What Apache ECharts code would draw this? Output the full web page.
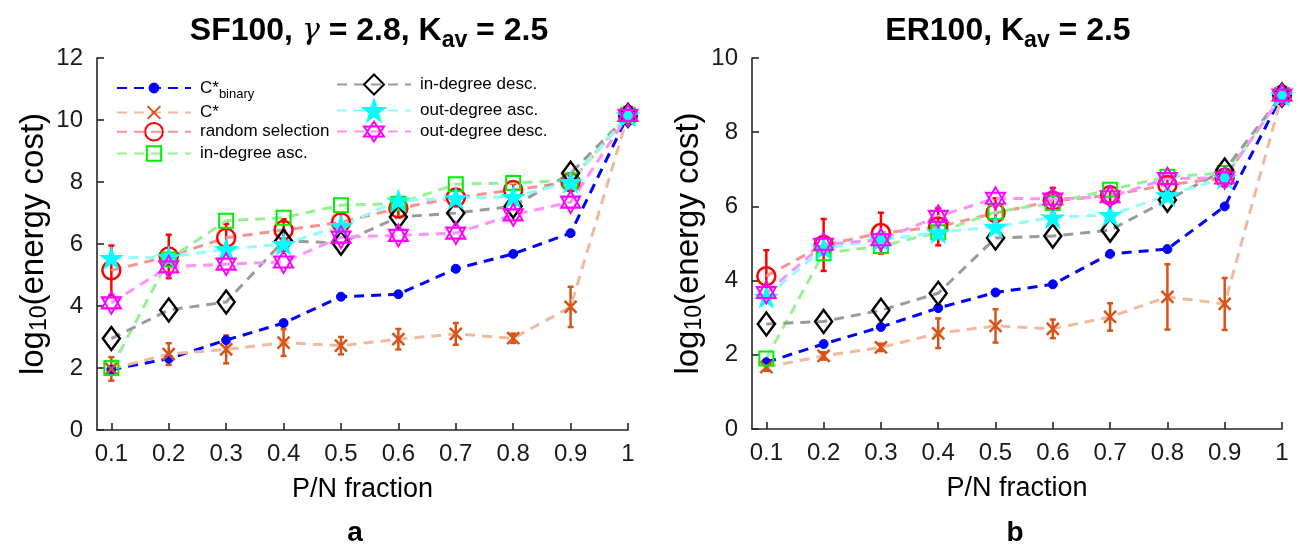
<!DOCTYPE html>
<html>
<head>
<meta charset="utf-8">
<script src="https://cdn.jsdelivr.net/npm/echarts@6/dist/echarts.min.js"></script>
<style>
  html, body { margin: 0; padding: 0; background: #ffffff; }
  #chart { width: 1300px; height: 547px; }
</style>
</head>
<body>
<div id="chart"></div>
<script>
// P/N fraction values shared by both panels
const fractions = [0.1, 0.2, 0.3, 0.4, 0.5, 0.6, 0.7, 0.8, 0.9, 1];
const xTickValues = [0.1, 0.2, 0.3, 0.4, 0.5, 0.6, 0.7, 0.8, 0.9, 1];

// Panel a: SF100, gamma = 2.8, K_av = 2.5  (log10 energy cost)
const sfBinary     = [1.95, 2.30, 2.90, 3.45, 4.30, 4.38, 5.20, 5.68, 6.35, 10.15];
const sfCstar      = [1.97, 2.45, 2.60, 2.82, 2.72, 2.93, 3.10, 2.96, 3.97, 10.15];
const sfCstarErr   = [0.38, 0.35, 0.45, 0.43, 0.28, 0.33, 0.35, 0.15, 0.65, 0];
const sfRandom     = [5.15, 5.60, 6.20, 6.45, 6.70, 7.15, 7.50, 7.74, 8.00, 10.15];
const sfRandomErr  = [0.80, 0.70, 0.45, 0.35, 0.30, 0.30, 0.25, 0.20, 0.20, 0];
const sfInAsc      = [2.00, 5.50, 6.75, 6.85, 7.25, 7.30, 7.93, 7.97, 8.05, 10.15];
const sfInDesc     = [2.95, 3.87, 4.13, 6.10, 6.03, 6.87, 7.00, 7.22, 8.28, 10.15];
const sfOutAsc     = [5.55, 5.58, 5.83, 6.00, 6.58, 7.40, 7.48, 7.52, 8.00, 10.15];
const sfOutDesc    = [4.10, 5.26, 5.35, 5.42, 6.22, 6.28, 6.35, 6.94, 7.35, 10.15];

// Panel b: ER100, K_av = 2.5
const erBinary     = [1.80, 2.29, 2.75, 3.26, 3.68, 3.90, 4.72, 4.85, 6.00, 9.00];
const erCstar      = [1.67, 1.97, 2.20, 2.58, 2.78, 2.70, 3.02, 3.56, 3.37, 9.00];
const erCstarErr   = [0.10, 0.10, 0.10, 0.40, 0.45, 0.25, 0.37, 0.88, 0.70, 0];
const erRandom     = [4.12, 4.96, 5.28, 5.45, 5.82, 6.15, 6.30, 6.58, 6.77, 9.00];
const erRandomErr  = [0.70, 0.70, 0.55, 0.50, 0.40, 0.35, 0.20, 0.20, 0.20, 0];
const erInAsc      = [1.90, 4.74, 4.93, 5.30, 5.85, 6.09, 6.45, 6.80, 6.90, 9.00];
const erInDesc     = [2.83, 2.90, 3.20, 3.66, 5.15, 5.20, 5.36, 6.17, 6.98, 9.00];
const erOutAsc     = [3.56, 4.87, 5.10, 5.30, 5.45, 5.70, 5.77, 6.30, 6.77, 9.00];
const erOutDesc    = [3.68, 4.98, 5.10, 5.73, 6.22, 6.20, 6.26, 6.75, 6.77, 9.00];

// marker shapes
function starPath(points, outer, inner) {
  let d = '';
  for (let i = 0; i < points * 2; i++) {
    const r = i % 2 === 0 ? outer : inner;
    const a = -Math.PI / 2 + i * Math.PI / points;
    d += (i === 0 ? 'M' : 'L') + (r * Math.cos(a)).toFixed(3) + ',' + (r * Math.sin(a)).toFixed(3);
  }
  return 'path://' + d + 'Z';
}
const pentagram = starPath(5, 10, 3.9);
const hexagram = 'path://M0,-10L8.66,5L-8.66,5ZM0,10L8.66,-5L-8.66,-5Z';
const xMark = 'path://M0,0L10,10M10,0L0,10';

const dash = [10, 7];
const styles = {
  'C*binary':         { symbol: 'circle',  size: 9,        fill: '#0000ff', stroke: '#0000ff', bw: 1,   line: '#0000ff', legendH: 11 },
  'C*':               { symbol: xMark,     size: 12,       fill: 'transparent', stroke: '#d95319', bw: 2.5, line: '#f2b9a1', legendH: 16 },
  'random selection': { symbol: 'circle',  size: 18,       fill: 'transparent', stroke: '#ff0000', bw: 2.5, line: '#f79393', legendH: 22 },
  'in-degree asc.':   { symbol: 'rect',    size: 14,       fill: 'transparent', stroke: '#00ee00', bw: 2,   line: '#94f294', legendH: 18 },
  'in-degree desc.':  { symbol: 'diamond', size: [17, 23], fill: 'transparent', stroke: '#000000', bw: 2.5, line: '#9a9a9a', legendH: 25 },
  'out-degree asc.':  { symbol: pentagram, size: [22, 21], fill: '#00ffff', stroke: '#00ffff', bw: 1,   line: '#93fcfc', legendH: 26 },
  'out-degree desc.': { symbol: hexagram,  size: [19, 22], fill: 'transparent', stroke: '#ff00ff', bw: 2,   line: '#fc93fc', legendH: 25 }
};

function lineSeries(name, values, gi) {
  const s = styles[name];
  return {
    type: 'line', name: name, xAxisIndex: gi, yAxisIndex: gi,
    data: fractions.map((x, i) => [x, values[i]]),
    symbol: s.symbol, symbolSize: s.size, showAllSymbol: true,
    lineStyle: { color: s.line, width: 3, type: dash },
    itemStyle: { color: s.fill, borderColor: s.stroke, borderWidth: s.bw },
    emphasis: { disabled: true }, silent: true, z: 2
  };
}

function errorSeries(values, errs, color, gi) {
  return {
    type: 'custom', xAxisIndex: gi, yAxisIndex: gi, silent: true, z: 2,
    data: fractions.map((x, i) => [x, values[i], errs[i]]),
    encode: { x: 0, y: 1 },
    renderItem: function (params, api) {
      const x = api.value(0), y = api.value(1), e = api.value(2);
      if (!e) return null;
      const top = api.coord([x, y + e]);
      const bot = api.coord([x, y - e]);
      const w = 3;
      const st = { stroke: color, lineWidth: 2.5 };
      return {
        type: 'group',
        children: [
          { type: 'line', shape: { x1: top[0], y1: top[1], x2: bot[0], y2: bot[1] }, style: st },
          { type: 'line', shape: { x1: top[0] - w, y1: top[1], x2: top[0] + w, y2: top[1] }, style: st },
          { type: 'line', shape: { x1: bot[0] - w, y1: bot[1], x2: bot[0] + w, y2: bot[1] }, style: st }
        ]
      };
    }
  };
}

function panelSeries(gi, d) {
  return [
    lineSeries('C*binary', d.binary, gi),
    errorSeries(d.cstar, d.cstarErr, '#d95319', gi),
    lineSeries('C*', d.cstar, gi),
    errorSeries(d.random, d.randomErr, '#ff0000', gi),
    lineSeries('random selection', d.random, gi),
    lineSeries('in-degree asc.', d.inAsc, gi),
    lineSeries('in-degree desc.', d.inDesc, gi),
    lineSeries('out-degree asc.', d.outAsc, gi),
    lineSeries('out-degree desc.', d.outDesc, gi)
  ];
}

const axisColor = '#262626';
const font = 'Liberation Sans, Arial, sans-serif';

function xAxisFor(gi) {
  return {
    type: 'value', gridIndex: gi, min: 0.075, max: 1,
    name: 'P/N fraction', nameLocation: 'middle', nameGap: 46,
    nameTextStyle: { fontFamily: font, fontSize: 27, color: '#000' },
    axisLine: { show: true, onZero: false, lineStyle: { color: axisColor, width: 1.6 } },
    axisTick: { show: true, inside: true, length: 7, customValues: xTickValues, lineStyle: { color: axisColor, width: 1.6 } },
    axisLabel: { customValues: xTickValues, margin: 12, fontFamily: font, fontSize: 24, color: '#1a1a1a',
                 formatter: v => (v === 1 ? '1' : v.toFixed(1)) },
    splitLine: { show: false }
  };
}
function yAxisFor(gi, max) {
  return {
    type: 'value', gridIndex: gi, min: 0, max: max, interval: 2,
    name: 'log{sub|10}(energy cost)', nameLocation: 'middle', nameGap: 46,
    nameTextStyle: { fontFamily: font, fontSize: 33, color: '#000',
      rich: { sub: { fontFamily: font, fontSize: 23, color: '#000', padding: [12, 0, 0, 0] } } },
    axisLine: { show: true, lineStyle: { color: axisColor, width: 1.6 } },
    axisTick: { show: true, inside: true, length: 7, lineStyle: { color: axisColor, width: 1.6 } },
    axisLabel: { margin: 14, fontFamily: font, fontSize: 24, color: '#1a1a1a' },
    splitLine: { show: false }
  };
}

// legend rows: one component per entry so the two columns stay aligned
const legendRows = [
  ['C*binary', 116, 85], ['C*', 116, 112], ['random selection', 116, 133], ['in-degree asc.', 116, 154],
  ['in-degree desc.', 336, 86], ['out-degree asc.', 336, 112], ['out-degree desc.', 336, 133]
];
const legends = legendRows.map(([name, left, centerY]) => {
  const h = styles[name].legendH;
  return {
    data: [name], left: left, top: centerY - h / 2, orient: 'vertical', padding: 0,
    itemWidth: 74, itemHeight: h, selectedMode: false,
    formatter: n => (n === 'C*binary' ? '{m|C*}{s|binary}' : n),
    textStyle: { fontFamily: font, fontSize: 17, color: '#000', padding: [0, 0, 0, 4],
      rich: { m: { fontFamily: font, fontSize: 17, color: '#000' },
              s: { fontFamily: font, fontSize: 13, color: '#000', padding: [12, 0, 0, 0] } } }
  };
});

const titleRich = {
  g: { fontFamily: 'DejaVu Serif, serif', fontSize: 30, fontWeight: 'normal', fontStyle: 'italic', color: '#000' },
  s: { fontFamily: font, fontSize: 23, fontWeight: 'bold', color: '#000', padding: [18, 0, 0, 0] }
};

const option = {
  animation: false,
  backgroundColor: '#ffffff',
  title: [
    { text: 'SF100, {g|γ} = 2.8, K{s|av} = 2.5', left: 364, top: 6, textAlign: 'center',
      textStyle: { fontFamily: font, fontSize: 32, fontWeight: 'bold', color: '#000', rich: titleRich } },
    { text: 'ER100, K{s|av} = 2.5', left: 1003, top: 6, textAlign: 'center',
      textStyle: { fontFamily: font, fontSize: 32, fontWeight: 'bold', color: '#000', rich: titleRich } },
    { text: 'a', left: 350, top: 514, textAlign: 'center',
      textStyle: { fontFamily: font, fontSize: 28, fontWeight: 'bold', color: '#000' } },
    { text: 'b', left: 1010, top: 514, textAlign: 'center',
      textStyle: { fontFamily: font, fontSize: 28, fontWeight: 'bold', color: '#000' } }
  ],
  legend: legends,
  grid: [
    { left: 97, right: 672, top: 58, height: 372 },
    { left: 752, right: 18, top: 58, height: 371 }
  ],
  xAxis: [xAxisFor(0), xAxisFor(1)],
  yAxis: [yAxisFor(0, 12), yAxisFor(1, 10)],
  series: [].concat(
    panelSeries(0, { binary: sfBinary, cstar: sfCstar, cstarErr: sfCstarErr, random: sfRandom, randomErr: sfRandomErr,
                     inAsc: sfInAsc, inDesc: sfInDesc, outAsc: sfOutAsc, outDesc: sfOutDesc }),
    panelSeries(1, { binary: erBinary, cstar: erCstar, cstarErr: erCstarErr, random: erRandom, randomErr: erRandomErr,
                     inAsc: erInAsc, inDesc: erInDesc, outAsc: erOutAsc, outDesc: erOutDesc })
  )
};

const chart = echarts.init(document.getElementById('chart'), null, { renderer: 'canvas' });
chart.setOption(option);
</script>
</body>
</html>
